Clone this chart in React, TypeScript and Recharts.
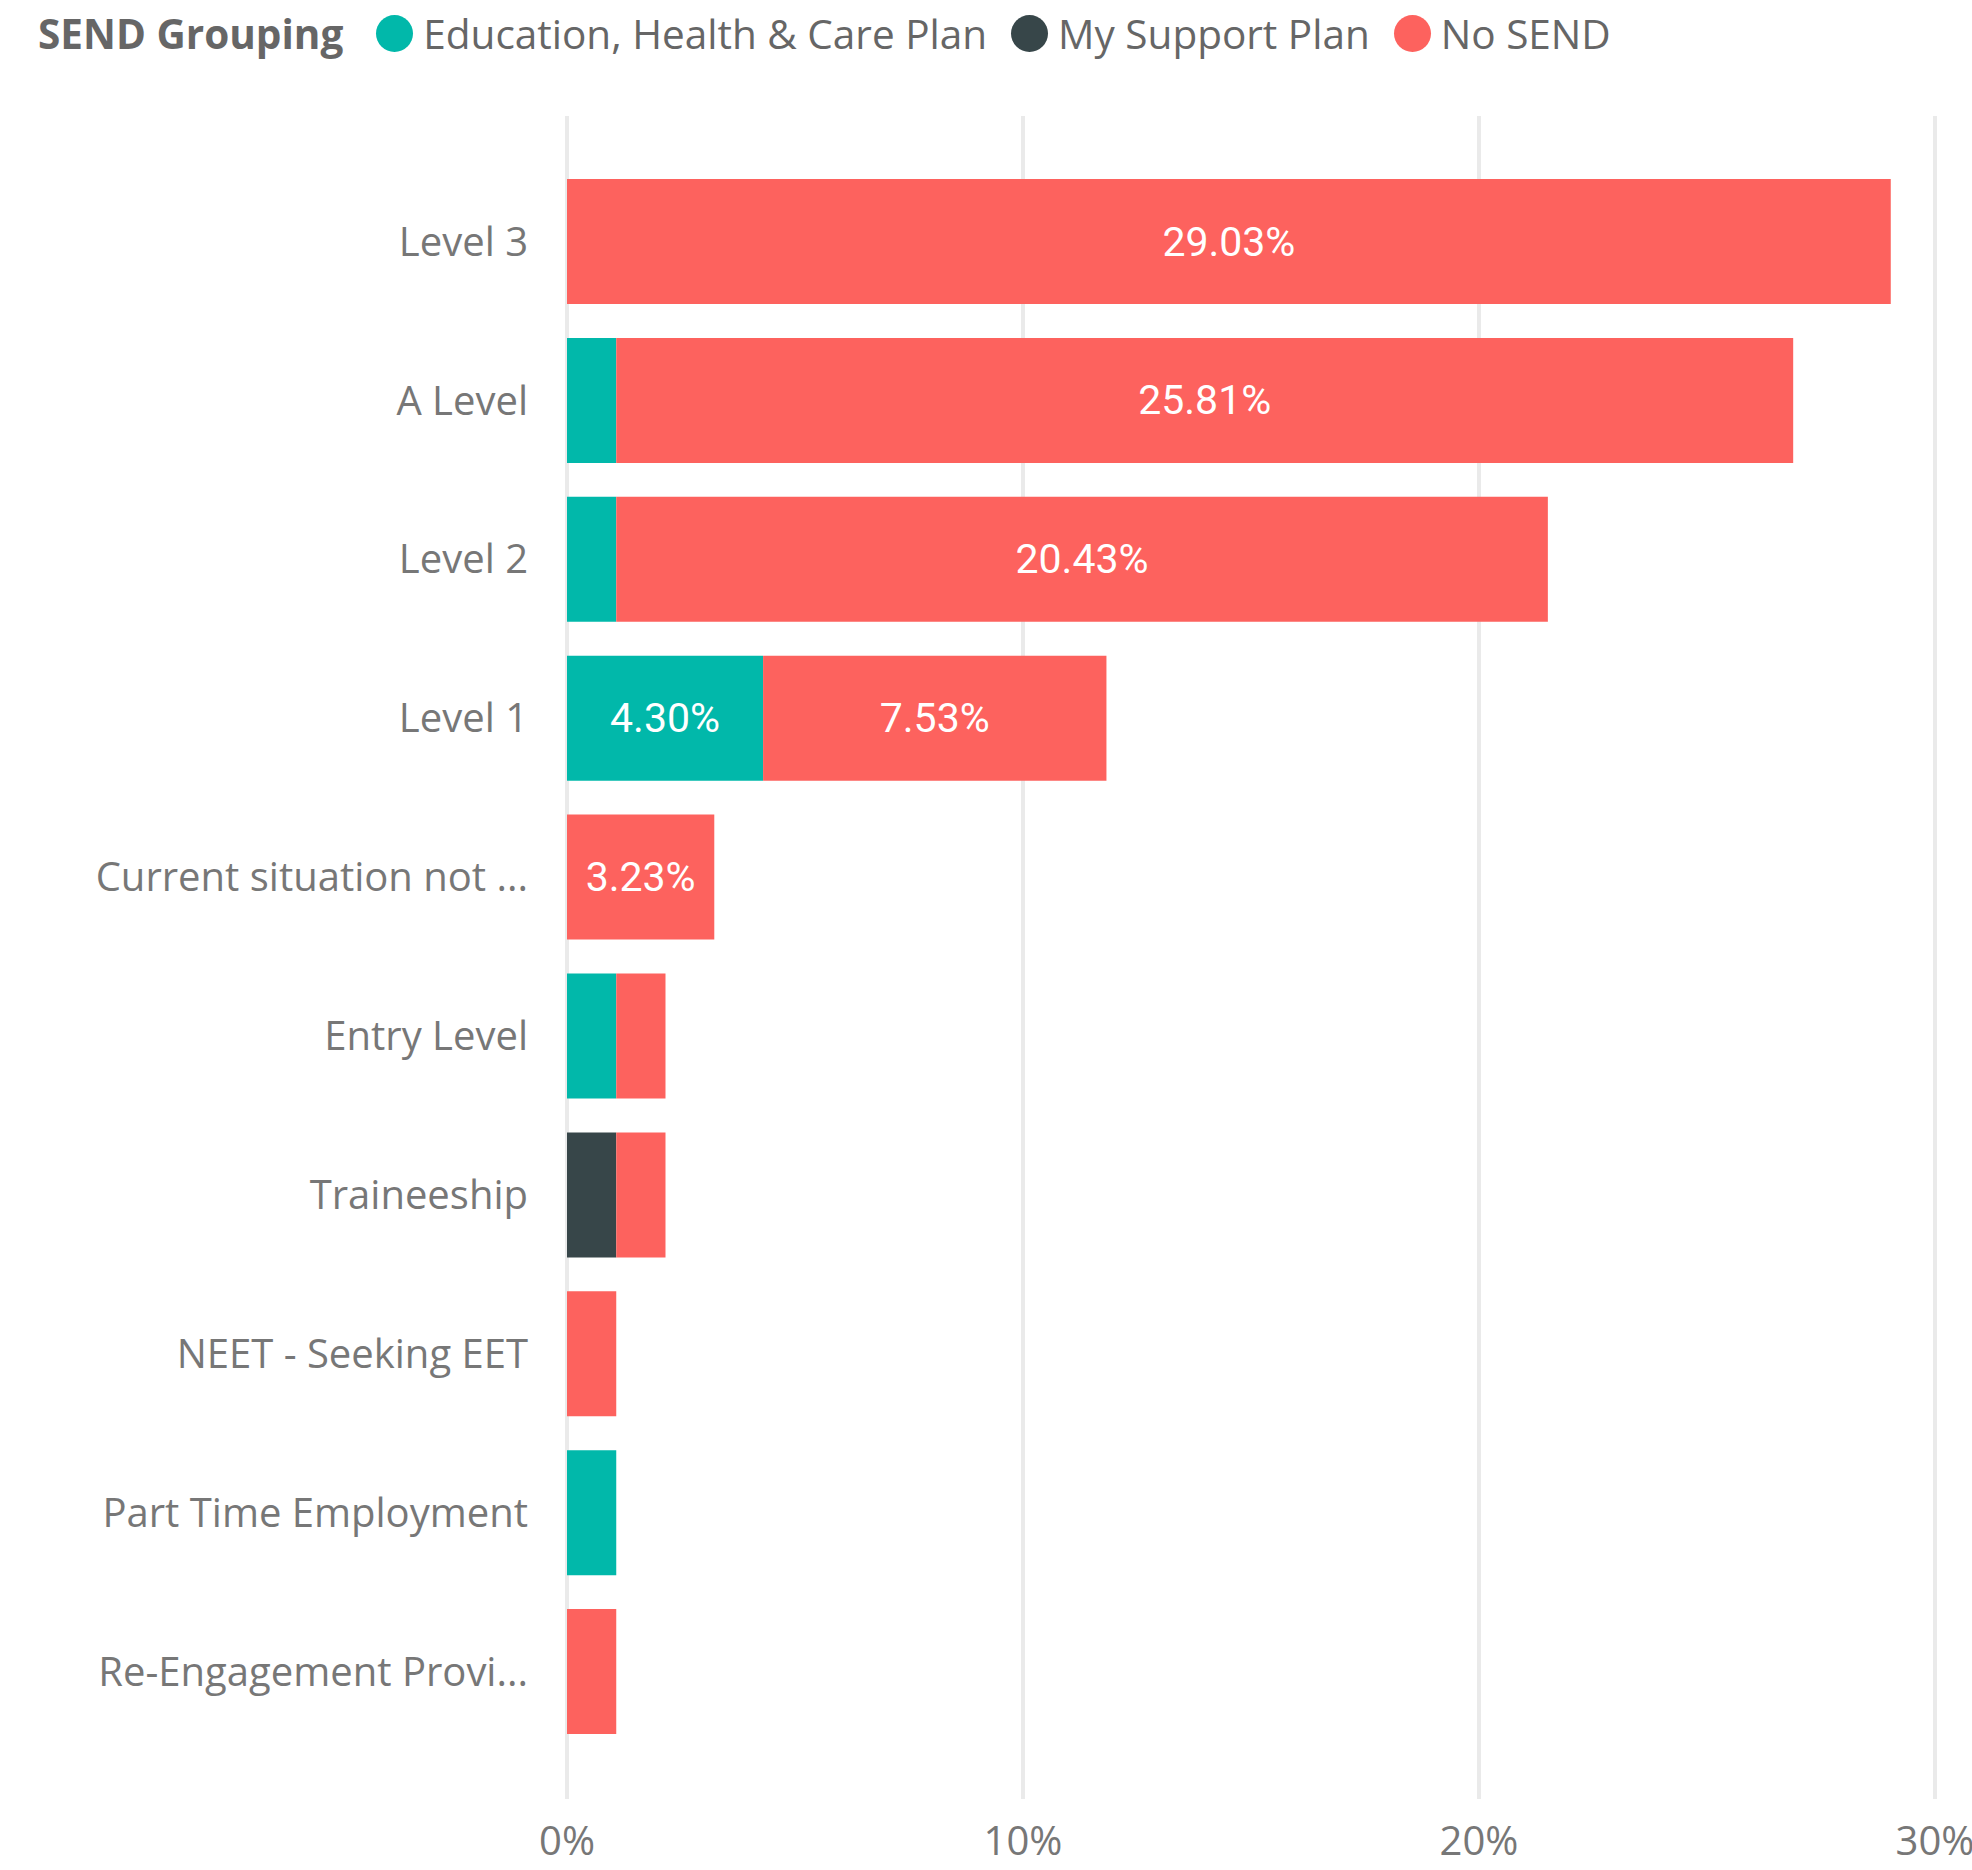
import React from 'react';
import { BarChart, Bar, XAxis, YAxis, CartesianGrid, Legend, LabelList } from 'recharts';

const categories = [
  'Level 3',
  'A Level',
  'Level 2',
  'Level 1',
  'Current situation not ...',
  'Entry Level',
  'Traineeship',
  'NEET - Seeking EET',
  'Part Time Employment',
  'Re-Engagement Provi...',
];
const ehcpValues = [0, 1.08, 1.08, 4.3, 0, 1.08, 0, 0, 1.08, 0];
const mspValues = [0, 0, 0, 0, 0, 0, 1.08, 0, 0, 0];
const noSendValues = [29.03, 25.81, 20.43, 7.53, 3.23, 1.08, 1.08, 1.08, 0, 1.08];
const xTicks = [0, 10, 20, 30];
const legendTitle = 'SEND Grouping';
const seriesNames = ['Education, Health & Care Plan', 'My Support Plan', 'No SEND'];
const seriesKeys = ['ehcp', 'msp', 'noSend'];
const seriesColors = ['#01B8AA', '#374649', '#FD625E'];

const data = categories.map((name, i) => ({
  name,
  ehcp: ehcpValues[i],
  msp: mspValues[i],
  noSend: noSendValues[i],
}));

const FONT = "'Segoe UI', 'Open Sans', sans-serif";
const LABEL_FONT = "DIN, Roboto, sans-serif";

const renderLabel = (props: any) => {
  const { x, y, width, height, value } = props;
  if (!value || width < 90) return null;
  return (
    <text
      x={x + width / 2}
      y={y + height / 2}
      textAnchor="middle"
      dominantBaseline="central"
      fill="#ffffff"
      fontFamily={LABEL_FONT}
      fontSize={41}
    >
      {`${Number(value).toFixed(2)}%`}
    </text>
  );
};

const renderLegend = (props: any) => {
  const payload = props.payload || [];
  return (
    <div
      style={{
        height: 116,
        boxSizing: 'border-box',
        paddingTop: 6,
        paddingLeft: 38,
        fontFamily: FONT,
        fontSize: 40.5,
        color: '#666666',
      }}
    >
      <div style={{ display: 'flex', alignItems: 'center', height: 55, whiteSpace: 'nowrap' }}>
        <span style={{ fontWeight: 700, marginRight: 33 }}>{legendTitle}</span>
        {payload.map((entry: any, i: number) => (
          <span key={i} style={{ display: 'flex', alignItems: 'center', marginRight: 24 }}>
            <span
              style={{
                display: 'inline-block',
                width: 37,
                height: 37,
                borderRadius: '50%',
                background: entry.color,
                marginRight: 10,
              }}
            />
            <span>{entry.value}</span>
          </span>
        ))}
      </div>
    </div>
  );
};

export default function App() {
  return (
    <div style={{ position: 'absolute', left: 0, top: 0, width: 1972, height: 1870, background: '#ffffff' }}>
      <BarChart
        width={1972}
        height={1870}
        data={data}
        layout="vertical"
        margin={{ top: 0, right: 37, bottom: 0, left: 0 }}
        barSize={125}
      >
        <CartesianGrid horizontal={false} vertical={true} stroke="#EAEAEA" strokeWidth={4} />
        <Legend
          verticalAlign="top"
          align="left"
          wrapperStyle={{ top: 0, left: 0, width: 1972 }}
          content={renderLegend}
        />
        <XAxis
          type="number"
          domain={[0, 30]}
          ticks={xTicks}
          interval={0}
          tickFormatter={(v: number) => `${v}%`}
          axisLine={false}
          tickLine={false}
          tickSize={0}
          tickMargin={28}
          height={71}
          tick={{ fill: '#777777', fontSize: 40, fontFamily: FONT }}
        />
        <YAxis
          type="category"
          dataKey="name"
          width={567}
          interval={0}
          axisLine={false}
          tickLine={false}
          tickSize={0}
          tickMargin={39}
          padding={{ top: 46, bottom: 48 }}
          tick={{ fill: '#777777', fontSize: 40, fontFamily: FONT }}
        />
        {seriesKeys.map((key, i) => (
          <Bar
            key={key}
            dataKey={key}
            name={seriesNames[i]}
            stackId="a"
            fill={seriesColors[i]}
            isAnimationActive={false}
          >
            <LabelList dataKey={key} content={renderLabel} />
          </Bar>
        ))}
      </BarChart>
    </div>
  );
}
